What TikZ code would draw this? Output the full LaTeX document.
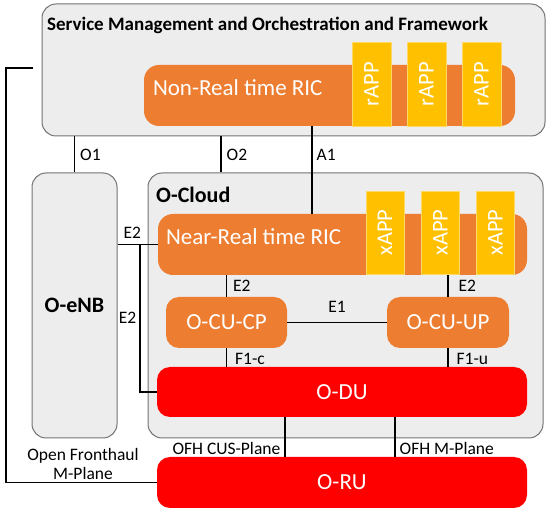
\documentclass[tikz,border=0pt]{standalone}
\usepackage{fontspec}
\setmainfont{Carlito}
\usepackage{tikz}

\definecolor{boxgray}{HTML}{EDEDED}
\definecolor{ricorange}{HTML}{ED7D31}
\definecolor{appyellow}{HTML}{FFC000}
\definecolor{dured}{HTML}{FF0000}

\begin{document}
\begin{tikzpicture}[x=1pt, y=-1pt,
    graybox/.style={draw=black!55, fill=boxgray, rounded corners=14pt, line width=1pt, inner sep=0pt},
    ricbox/.style={fill=ricorange, rounded corners=15pt, inner sep=0pt},
    rictext/.style={text=white, inner sep=0pt, font=\fontsize{23}{27}\selectfont},
    cubox/.style={fill=ricorange, rounded corners=13pt, inner sep=0pt, text=white, font=\fontsize{23}{27}\selectfont},
    appbox/.style={fill=appyellow, draw=appyellow!60!white, line width=0.8pt, inner sep=0pt, rotate=90, text=white, font=\fontsize{22.5}{26}\selectfont},
    redbox/.style={fill=dured, rounded corners=13pt, inner sep=0pt, text=white, font=\fontsize{23}{27}\selectfont},
    titletext/.style={anchor=west, inner sep=0pt, font=\bfseries\fontsize{22}{26}\selectfont},
    lbl/.style={inner sep=0pt, font=\fontsize{17.5}{19}\selectfont},
    link/.style={line width=1.4pt}]
  \useasboundingbox (0,0) rectangle (550,513);

  \node[graybox, minimum width=503pt, minimum height=132pt] (smo) at (293.5,70) {};
  \node[titletext, font=\bfseries\fontsize{19}{23}\selectfont] (smotitle) at (47,25) {Service Management and Orchestration and Framework};
  \node[ricbox, minimum width=371pt, minimum height=61pt] (nrt) at (329.5,95.5) {};
  \node[rictext, anchor=west] (nrttext) at ([xshift=9pt,yshift=8pt]nrt.west) {Non-Real time RIC};
  \foreach \i/\x in {1/371.5, 2/426.5, 3/481.5}
    \node[appbox, minimum width=84pt, minimum height=39pt] (rapp\i) at (\x,84) {rAPP};

  \node[graybox, minimum width=85pt, minimum height=265pt, font=\bfseries\fontsize{22}{26}\selectfont] (enb) at (74.5,305.5) {O-eNB};
  \node[graybox, minimum width=395pt, minimum height=265pt] (cloud) at (345.5,305.5) {};
  \node[titletext] (cloudtitle) at (156,195) {O-Cloud};
  \node[ricbox, minimum width=369pt, minimum height=61pt] (near) at (342.5,244.5) {};
  \node[rictext, anchor=west] (neartext) at ([xshift=8pt,yshift=7.5pt]near.west) {Near-Real time RIC};
  \foreach \i/\x in {1/385, 2/440.5, 3/495.5}
    \node[appbox, minimum width=83pt, minimum height=38pt] (xapp\i) at (\x,232.5) {xAPP};
  \node[cubox, minimum width=121pt, minimum height=51pt] (cucp) at (226.5,322.5) {O-CU-CP};
  \node[cubox, minimum width=122pt, minimum height=51pt] (cuup) at (448,322.5) {O-CU-UP};
  \node[redbox, minimum width=370pt, minimum height=50pt] (du) at (342,392) {O-DU};
  \node[redbox, minimum width=370pt, minimum height=51pt] (ru) at (342,482.5) {O-RU};
  \node[lbl, align=center, font=\fontsize{17.5}{18.5}\selectfont] (mplane) at (83,464) {Open Fronthaul\\M-Plane};

  \coordinate (mp) at (33,68);
  \coordinate (mpc) at (6,0);
  \coordinate (o2) at (221,0);
  \coordinate (a1) at (312,0);
  \coordinate (e2j) at (140,0);
  \coordinate (cus) at (285,0);
  \coordinate (mpl) at (395,0);

  \draw[link] (mp) -| (mpc |- ru.west) -- (ru.west);
  \draw[link] (enb.north |- smo.south) -- (enb.north) node[lbl, midway, right=5pt] {O1};
  \draw[link] (smo.south -| o2) -- (cloud.north -| o2) node[lbl, midway, right=5pt] {O2};
  \draw[link] (nrt.south -| a1) -- (near.north -| a1) node[lbl, pos=0.33, right=4pt] {A1};
  \draw[link] (enb.east |- near.west) -- (near.west) node[lbl, pos=0.37, above=5pt] {E2};
  \draw[link] (e2j |- near.west) |- (du.west) node[lbl, pos=0.25, left=3pt] {E2};
  \draw[link] (near.south -| cucp) -- (cucp.north) node[lbl, midway, right=6pt] {E2};
  \draw[link] (near.south -| cuup) -- (cuup.north) node[lbl, midway, right=10pt] {E2};
  \draw[link] (cucp.east) -- (cuup.west) node[lbl, midway, above=9pt] {E1};
  \draw[link] (cucp.south) -- (du.north -| cucp) node[lbl, pos=0.6, right=8pt] {F1-c};
  \draw[link] (cuup.south) -- (du.north -| cuup) node[lbl, pos=0.6, right=8pt] {F1-u};
  \draw[link] (du.south -| cus) -- (ru.north -| cus) node[lbl, pos=0.8, left=4pt] {OFH CUS-Plane};
  \draw[link] (du.south -| mpl) -- (ru.north -| mpl) node[lbl, pos=0.8, right=4pt] {OFH M-Plane};
\end{tikzpicture}
\end{document}
